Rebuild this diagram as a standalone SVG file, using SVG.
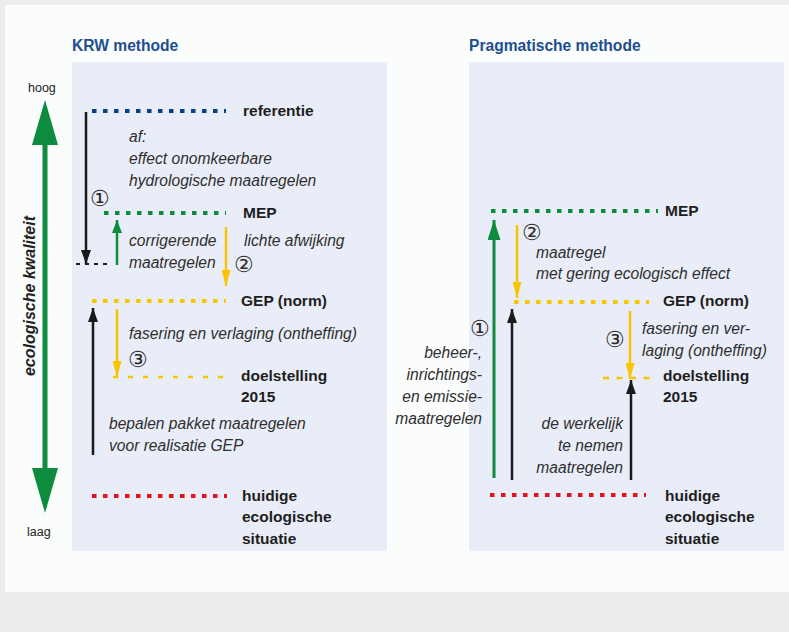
<svg xmlns="http://www.w3.org/2000/svg" width="789" height="632" viewBox="0 0 789 632">
  <defs>
    <style>
      .title { font-family: "Liberation Sans", Arial, sans-serif; font-weight: bold; font-size: 15.6px; fill: #1d4f8f; }
      .lbl { font-family: "Liberation Sans", Arial, sans-serif; font-weight: bold; font-size: 15.5px; fill: #1e1e1e; }
      .it { font-family: "Liberation Sans", Arial, sans-serif; font-style: italic; font-size: 15.6px; fill: #2e2e2e; }
      .ax { font-family: "Liberation Sans", Arial, sans-serif; font-size: 12.5px; fill: #222; }
      .axt { font-family: "Liberation Sans", Arial, sans-serif; font-weight: bold; font-style: italic; font-size: 16px; fill: #222; }
      .num { font-family: "DejaVu Sans", sans-serif; font-weight: 200; font-size: 22px; fill: #2a2a2a; }
      .panel { fill: #e9edf7; }
      .dot { fill: none; stroke-width: 4; stroke-dasharray: 4.5 6.5; }
      .blue { stroke: #0b3f84; }
      .green { stroke: #0e8c3e; }
      .yellow { stroke: #f8c600; }
      .red { stroke: #e3121e; }
      .black { stroke: #1a1a1a; }
      .v { fill: none; stroke-width: 2.5; }
    </style>
    <marker id="ak" viewBox="0 0 14 10" refX="14" refY="5" markerWidth="14" markerHeight="10" markerUnits="userSpaceOnUse" orient="auto">
      <path d="M0,0 L14,5 L0,10 z" fill="#1a1a1a"/>
    </marker>
    <marker id="ay" viewBox="0 0 16 9" refX="16" refY="4.5" markerWidth="16" markerHeight="9" markerUnits="userSpaceOnUse" orient="auto">
      <path d="M0,0 L16,4.5 L0,9 z" fill="#f8c600"/>
    </marker>
    <marker id="ag" viewBox="0 0 13 10" refX="13" refY="5" markerWidth="13" markerHeight="10" markerUnits="userSpaceOnUse" orient="auto">
      <path d="M0,0 L13,5 L0,10 z" fill="#0e8c3e"/>
    </marker>
    <marker id="agl" viewBox="0 0 20 13" refX="20" refY="6.5" markerWidth="20" markerHeight="13" markerUnits="userSpaceOnUse" orient="auto">
      <path d="M0,0 L20,6.5 L0,13 z" fill="#0e8c3e"/>
    </marker>
  </defs>

  <!-- page -->
  <rect x="0" y="0" width="789" height="632" fill="#ececec"/>
  <rect x="5" y="5" width="784" height="587" fill="#fbfcfc"/>
  <rect class="panel" x="72" y="62" width="315" height="489"/>
  <rect class="panel" x="469" y="62" width="315" height="489"/>

  <text class="title" x="72" y="51">KRW methode</text>
  <text class="title" x="469" y="51">Pragmatische methode</text>

  <!-- quality axis -->
  <g id="axis">
    <path d="M42.5,145 L32,145 L45,100 L58,145 L47.5,145 L47.5,468 L58,468 L45,513 L32,468 L42.5,468 z" fill="#0e8c3e"/>
    <text class="ax" x="28" y="92">hoog</text>
    <text class="ax" x="27" y="536">laag</text>
    <text class="axt" transform="translate(35,296) rotate(-90)" text-anchor="middle">ecologische kwaliteit</text>
  </g>

  <!-- KRW method: levels -->
  <g id="krw-referentie">
    <line class="dot blue" x1="92" y1="111" x2="226" y2="111"/>
    <text class="lbl" x="243" y="116">referentie</text>
  </g>
  <g id="krw-mep">
    <line class="dot green" x1="104" y1="213" x2="226" y2="213"/>
    <text class="lbl" x="243" y="218">MEP</text>
  </g>
  <g id="krw-gep">
    <line class="dot yellow" x1="92" y1="301" x2="226" y2="301"/>
    <text class="lbl" x="241" y="306">GEP (norm)</text>
  </g>
  <g id="krw-doel">
    <line class="yellow" x1="113" y1="377" x2="227" y2="377" stroke-width="2.5" stroke-dasharray="5 10" fill="none"/>
    <text class="lbl" x="241" y="381">doelstelling</text>
    <text class="lbl" x="241" y="402">2015</text>
  </g>
  <g id="krw-huidig">
    <line class="dot red" x1="92" y1="496" x2="227" y2="496"/>
    <text class="lbl" x="242" y="501">huidige</text>
    <text class="lbl" x="242" y="522">ecologische</text>
    <text class="lbl" x="242" y="544">situatie</text>
  </g>

  <!-- KRW method: steps -->
  <g id="krw-connectors">
    <line class="v black" x1="86" y1="112" x2="86" y2="264" marker-end="url(#ak)"/>
    <line class="black" x1="76" y1="264" x2="110" y2="264" stroke-width="2" stroke-dasharray="4 5" fill="none"/>
    <line class="v green" x1="117" y1="265" x2="117" y2="220" marker-end="url(#ag)"/>
    <line class="v yellow" x1="226" y1="227" x2="226" y2="286" marker-end="url(#ay)"/>
    <line class="v black" x1="93" y1="455" x2="93" y2="308" marker-end="url(#ak)"/>
    <line class="v yellow" x1="117" y1="309" x2="117" y2="377" marker-end="url(#ay)"/>
  </g>
  <g id="krw-notes">
    <text class="it" x="129" y="142">af:</text>
    <text class="it" x="129" y="164">effect onomkeerbare</text>
    <text class="it" x="129" y="186">hydrologische maatregelen</text>
    <text class="num" x="90" y="206">①</text>
    <text class="it" x="129" y="246">corrigerende</text>
    <text class="it" x="129" y="268">maatregelen</text>
    <text class="it" x="244" y="246">lichte afwijking</text>
    <text class="num" x="234" y="272">②</text>
    <text class="it" x="129" y="339">fasering en verlaging (ontheffing)</text>
    <text class="num" x="128" y="367">③</text>
    <text class="it" x="109" y="429">bepalen pakket maatregelen</text>
    <text class="it" x="109" y="451">voor realisatie GEP</text>
  </g>

  <!-- Pragmatic method: levels -->
  <g id="prag-mep">
    <line class="dot green" x1="491" y1="211" x2="658" y2="211"/>
    <text class="lbl" x="665" y="216">MEP</text>
  </g>
  <g id="prag-gep">
    <line class="dot yellow" x1="514" y1="302" x2="649" y2="302"/>
    <text class="lbl" x="663" y="306">GEP (norm)</text>
  </g>
  <g id="prag-doel">
    <line class="yellow" x1="603" y1="378" x2="650" y2="378" stroke-width="2.5" stroke-dasharray="6 7.5" fill="none"/>
    <text class="lbl" x="663" y="381">doelstelling</text>
    <text class="lbl" x="663" y="402">2015</text>
  </g>
  <g id="prag-huidig">
    <line class="dot red" x1="490" y1="495" x2="646" y2="495"/>
    <text class="lbl" x="665" y="501">huidige</text>
    <text class="lbl" x="665" y="522">ecologische</text>
    <text class="lbl" x="665" y="544">situatie</text>
  </g>

  <!-- Pragmatic method: steps -->
  <g id="prag-connectors">
    <line class="green" x1="494" y1="478" x2="494" y2="220" stroke-width="3" marker-end="url(#agl)"/>
    <line class="v yellow" x1="517" y1="225" x2="517" y2="298" marker-end="url(#ay)"/>
    <line class="v black" x1="512" y1="480" x2="512" y2="309" marker-end="url(#ak)"/>
    <line class="v yellow" x1="630" y1="311" x2="630" y2="379" marker-end="url(#ay)"/>
    <line class="v black" x1="631" y1="480" x2="631" y2="380" marker-end="url(#ak)"/>
  </g>
  <g id="prag-notes">
    <text class="num" x="522" y="240">②</text>
    <text class="it" x="536" y="258">maatregel</text>
    <text class="it" x="536" y="279">met gering ecologisch effect</text>
    <text class="num" x="605" y="347">③</text>
    <text class="it" x="642" y="334">fasering en ver-</text>
    <text class="it" x="642" y="356">laging (ontheffing)</text>
    <text class="num" x="470" y="336">①</text>
    <g text-anchor="end">
      <text class="it" x="482" y="358">beheer-,</text>
      <text class="it" x="482" y="380">inrichtings-</text>
      <text class="it" x="482" y="402">en emissie-</text>
      <text class="it" x="482" y="424">maatregelen</text>
      <text class="it" x="623" y="429">de werkelijk</text>
      <text class="it" x="623" y="451">te nemen</text>
      <text class="it" x="623" y="473">maatregelen</text>
    </g>
  </g>
</svg>
